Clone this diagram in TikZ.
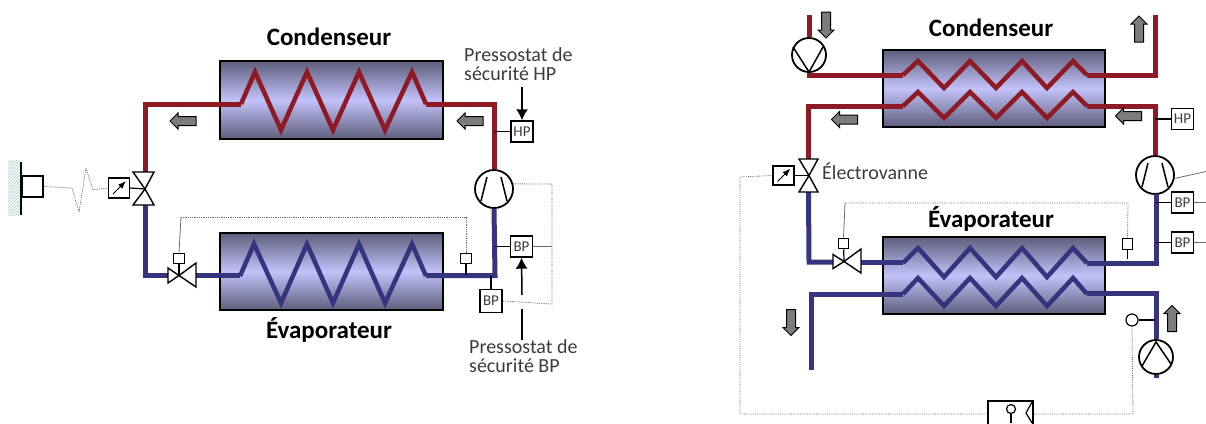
\documentclass[tikz,border=0pt]{standalone}
\usepackage{fontspec}
\setmainfont{Carlito}
\usetikzlibrary{patterns,arrows.meta}
\definecolor{hot}{HTML}{8E1A26}
\definecolor{cold}{HTML}{35357F}
\definecolor{txt}{HTML}{3C3C3C}
\definecolor{ctrl}{HTML}{6A6A6A}
\definecolor{shellend}{HTML}{5E5E7C}
\definecolor{shellmid}{HTML}{C2C2FA}
\definecolor{flowgray}{HTML}{7C7C7C}
\tikzset{
  hotpipe/.style={draw=hot,line width=5pt,line join=miter},
  coldpipe/.style={draw=cold,line width=5pt,line join=miter},
  hotcoil/.style={draw=hot,line width=4.5pt,line join=miter},
  coldcoil/.style={draw=cold,line width=4.5pt,line join=miter},
  exch/.style={draw=black,line width=1.5pt,inner sep=0pt,
    top color=shellend,bottom color=shellend,middle color=shellmid},
  title/.style={font=\fontsize{25}{27}\selectfont\bfseries,text=black,inner sep=0pt},
  lbl/.style={font=\fontsize{20}{19}\selectfont,text=txt,align=left,inner sep=0pt,anchor=west},
  swbox/.style={draw=black,line width=1.4pt,fill=white,inner sep=0pt,minimum width=22pt,minimum height=21pt,font=\fontsize{15}{15}\selectfont,text=txt},
  bulb/.style={draw=black,line width=1.2pt,fill=white,inner sep=0pt,minimum width=10.5pt,minimum height=10.5pt},
  machine/.style={circle,draw=black,line width=1.8pt,fill=white,inner sep=0pt},
  stem/.style={draw=black,line width=1.2pt},
  stroke/.style={draw=black,line width=1.5pt},
  valve/.style={draw=black,line width=1.4pt,fill=white,line join=miter},
  ctrlline/.style={draw=ctrl,line width=0.8pt,densely dotted},
  ctrlsolid/.style={draw=ctrl,line width=0.8pt},
  flowpoly/.style={draw=black,line width=1pt,fill=flowgray,line join=miter},
  blackarrow/.style={draw=black,line width=1.5pt,-{Latex[length=11pt,width=12pt]}},
}
\newcommand{\gaugearrow}[1]{\draw[draw=black,line width=1pt,-{Latex[length=8pt,width=6pt]}] ([shift={(-6,6)}]#1.center) -- ([shift={(7,-7)}]#1.center);}
% centre x, centre y, rotation: 0 points left, 90 down, -90 up
\newcommand{\flowarrow}[3]{\draw[flowpoly,shift={(#1,#2)},rotate=#3] (-13,0) -- (-5,-8) -- (-5,-4.5) -- (13,-4.5) -- (13,4.5) -- (-5,4.5) -- (-5,8) -- cycle;}
\begin{document}
\begin{tikzpicture}[x=1pt,y=-1pt]
\useasboundingbox (0,0) rectangle (1206,423);
% ---------- LEFT DIAGRAM ----------
\node[exch,minimum width=223pt,minimum height=78pt] (condL) at (331.5,100) {};
\node[exch,minimum width=223pt,minimum height=77pt] (evapL) at (331.5,271.5) {};
\node[title] (tCondL) at (329,37) {Condenseur};
\node[title] (tEvapL) at (329,330) {Évaporateur};
\node[machine,minimum size=38pt] (compL) at (494,189) {};
\node[swbox] (hpL) at (522,131.5) {HP};
\node[swbox] (bpLa) at (521.5,246.5) {BP};
\node[swbox,minimum height=23pt] (bpLb) at (491,301) {BP};
\node[lbl] (lHP) at (464,64) {Pressostat de\\sécurité HP};
\node[lbl] (lBP) at (469,356.5) {Pressostat de\\sécurité BP};
\node[bulb] (bulbLa) at (179,258.5) {};
\node[bulb] (bulbLb) at (466,258.5) {};
\node[swbox,minimum width=21pt,minimum height=20pt] (gaugeL) at (119,188) {};
\node[draw=black,line width=1.4pt,fill=white,inner sep=0pt,minimum width=21pt,minimum height=21pt] (thermoL) at (32.5,186.5) {};
\coordinate (cornerLa) at (145,104);
\coordinate (cornerLb) at (494,104);
\coordinate (cornerLc) at (145,275.5);
\coordinate (cornerLd) at (495,275.5);
\coordinate (vTopL) at (145,172);
\coordinate (vBotL) at (145,205);
\coordinate (vCenL) at (145,189);
\coordinate (hvL) at (168,275.5);
\coordinate (hvR) at (196,275.5);
\coordinate (hvC) at (179,275.5);
% hatch wall
\fill[pattern=north east lines,pattern color=teal!40] (8,160) rectangle (21,215);
\draw[draw=black,line width=1.4pt] (21,162) -- (21,215);
% coils and pipes
\draw[hotcoil] (241,104) -- (255,72) -- (281,130) -- (307,72) -- (333,130) -- (359,72) -- (385,130) -- (412,72) -- (426,104);
\draw[hotpipe] (426,104) -- (cornerLb) -- (compL.north);
\draw[hotpipe] (241,104) -- (cornerLa) -- (vTopL);
\draw[coldcoil] (240,276) -- (254,244) -- (281,303) -- (307,244) -- (333,303) -- (359,244) -- (385,303) -- (412,244) -- (426,276);
\draw[coldpipe] (426,275.5) -- (cornerLd) -- (compL.south);
\draw[coldpipe] (240,275.5) -- (hvR);
\draw[coldpipe] (vBotL) -- (cornerLc) -- (hvL);
% compressor strokes
\draw[stroke] (487,177) -- (481,201);
\draw[stroke] (501,177) -- (507,201);
% expansion valve
\draw[stem] (bulbLa) -- (hvC);
\draw[valve] (168,268) -- (168,283) -- (179,275.5) -- cycle;
\draw[valve] (196,263) -- (196,287) -- (179,275.5) -- cycle;
\node[bulb] at (bulbLa) {};
% solenoid valve
\draw[stem] (gaugeL.east) -- (vCenL);
\draw[valve] (133,172) -- (154,172) -- (vCenL) -- cycle;
\draw[valve] (133,205) -- (154,205) -- (vCenL) -- cycle;
\gaugearrow{gaugeL}
% control
\draw[ctrlsolid] (bulbLa.north) -- (181,217);
\draw[ctrlline] (181,217) -- (466,217) -- (bulbLb.north);
\draw[stem] (bulbLb.south) -- (466,275);
\draw[stem] (hpL.west) -- (494,131.5);
\draw[stem] (bpLa.west) -- (495,246.5);
\draw[stem] (bpLb.north) -- (491,276);
\draw[ctrlsolid] (bpLa.east) -- (552,246.5);
\draw[ctrlline] (compL.15) -- (552,184) -- (552,304) -- (bpLb.east);
\draw[ctrlline] (thermoL.east) -- (72,188);
\draw[ctrlline] (72,188) -- (79,212) -- (86,168) -- (93,190) -- (gaugeL.west);
% black arrows
\draw[blackarrow] (522,87) -- (hpL.north);
\draw[blackarrow] (522,295) -- (bpLa.south);
\draw[draw=black,line width=1.5pt] (522,309) -- (522,340);
% flow arrows
\flowarrow{470}{121}{0}
\flowarrow{183}{121}{0}
% ---------- RIGHT DIAGRAM ----------
\node[exch,minimum width=222pt,minimum height=77pt] (condR) at (994,88.5) {};
\node[exch,minimum width=222pt,minimum height=77pt] (evapR) at (994,275.5) {};
\node[title] (tCondR) at (991,28) {Condenseur};
\node[title] (tEvapR) at (991,219) {Évaporateur};
\node[machine,minimum size=34pt] (fanR) at (809,55) {};
\node[machine,minimum size=38pt] (compR) at (1155,175) {};
\node[machine,minimum size=34pt] (pumpR) at (1156,357) {};
\node[swbox] (hpR) at (1182.5,119) {HP};
\node[swbox] (bpRa) at (1182.5,202.5) {BP};
\node[swbox] (bpRb) at (1182.5,242.5) {BP};
\node[swbox,minimum width=21pt,minimum height=19pt] (gaugeR) at (783.5,175.5) {};
\node[bulb] (bulbRa) at (843.5,243.5) {};
\node[bulb,minimum height=11.5pt] (bulbRb) at (1127.5,244) {};
\node[circle,draw=black,line width=1.2pt,fill=white,inner sep=0pt,minimum size=12pt] (senseR) at (1132,320) {};
\node[lbl] (lEV) at (822,171) {Électrovanne};
\coordinate (r1) at (809,15);
\coordinate (r2) at (809,75);
\coordinate (r3) at (1155,75);
\coordinate (r4) at (1155,15);
\coordinate (r5) at (808.5,106);
\coordinate (r6) at (1155,106);
\coordinate (r7) at (809,262);
\coordinate (r8) at (1156,263);
\coordinate (r9) at (811,294);
\coordinate (r10) at (811,370);
\coordinate (r11) at (1156,293);
\coordinate (r12) at (1156,378);
\coordinate (vCenR) at (809,175.5);
\coordinate (hvCR) at (844,261.5);
% coils and pipes
\draw[hotcoil] (903,75) -- (918,61) -- (944,88) -- (970,61) -- (996,88) -- (1022,61) -- (1047,88) -- (1073,61) -- (1087,75);
\draw[hotcoil] (903,106) -- (918,92) -- (944,118) -- (970,92) -- (996,118) -- (1022,92) -- (1047,118) -- (1073,92) -- (1087,106);
\draw[coldcoil] (903,263) -- (918,248) -- (944,277) -- (970,248) -- (996,277) -- (1022,248) -- (1047,277) -- (1073,248) -- (1087,263);
\draw[coldcoil] (903,294) -- (918,278) -- (944,306) -- (970,278) -- (996,306) -- (1022,278) -- (1047,306) -- (1073,278) -- (1087,294);
\draw[hotpipe] (r1) -- (fanR.north);
\draw[hotpipe] (fanR.south) -- (r2) -- (903,75);
\draw[hotpipe] (1087,75) -- (r3) -- (r4);
\draw[hotpipe] (903,106) -- (r5) -- (808.5,159);
\draw[hotpipe] (1087,106) -- (r6) -- (compR.north);
\draw[coldpipe] (808.5,192) -- (r7) -- (833,262);
\draw[coldpipe] (861,262) -- (903,262);
\draw[coldpipe] (1087,263) -- (r8) -- (1156,194);
\draw[coldpipe] (903,294) -- (r9) -- (r10);
\draw[coldpipe] (1087,293) -- (r11) -- (pumpR.north);
\draw[coldpipe] (pumpR.south) -- (r12);
% machine strokes
\draw[stroke] (793,47) -- (809,72) -- (823,47);
\draw[stroke] (1148,163) -- (1142,187);
\draw[stroke] (1162,163) -- (1168,187);
\draw[stroke] (1142,366) -- (1156,342) -- (1171,364);
% valves
\draw[stem] (gaugeR.east) -- (vCenR);
\draw[valve] (799,159) -- (818,159) -- (vCenR) -- cycle;
\draw[valve] (799,192) -- (818,192) -- (vCenR) -- cycle;
\gaugearrow{gaugeR}
\draw[stem] (bulbRa) -- (hvCR);
\draw[valve] (833,254.5) -- (833,268.5) -- (hvCR) -- cycle;
\draw[valve] (861,249) -- (861,273) -- (hvCR) -- cycle;
\node[bulb] at (bulbRa) {};
% control
\draw[ctrlsolid] (bulbRa.north) -- (845,203);
\draw[ctrlline] (845,203) -- (1128,203) -- (bulbRb.north);
\draw[stem] (bulbRb.south) -- (1127.5,259);
\draw[stem] (hpR.west) -- (1155,119);
\draw[stem] (bpRa.west) -- (1156,202.5);
\draw[stem] (bpRb.west) -- (1156,242.5);
\draw[stem] (senseR.east) -- (1155,320);
\draw[ctrlsolid] (compR.-10) -- (1206,171.5);
\draw[ctrlsolid] (bpRa.east) -- (1206,202.5);
\draw[ctrlsolid] (bpRb.east) -- (1206,242.5);
% bottom box (cut by the page edge)
\coordinate (tbL) at (988,414);
\coordinate (tbR) at (1033,414);
\draw[ctrlline] (senseR.south) -- (1133,414) -- (tbR);
\draw[ctrlline] (tbL) -- (740,414) -- (740,177) -- (gaugeR.west);
\begin{scope}
\clip (980,395) rectangle (1040,423);
\draw[draw=black,line width=1.4pt,fill=white] (988,430) -- (988,401) -- (1033,401) -- (1033,430);
\draw[stem] (1011,413) -- (1011,423);
\node[circle,draw=black,line width=1.2pt,fill=white,inner sep=0pt,minimum size=9pt] (tbBulb) at (1011,409) {};
\draw[stem] (1032,402) -- (1026,413) -- (1032,423);
\end{scope}
% flow arrows
\flowarrow{826}{25}{90}
\flowarrow{1139}{29}{-90}
\flowarrow{1128.5}{116}{0}
\flowarrow{844.5}{119.5}{0}
\flowarrow{791}{322.5}{90}
\flowarrow{1172}{318.5}{-90}
\end{tikzpicture}
\end{document}
